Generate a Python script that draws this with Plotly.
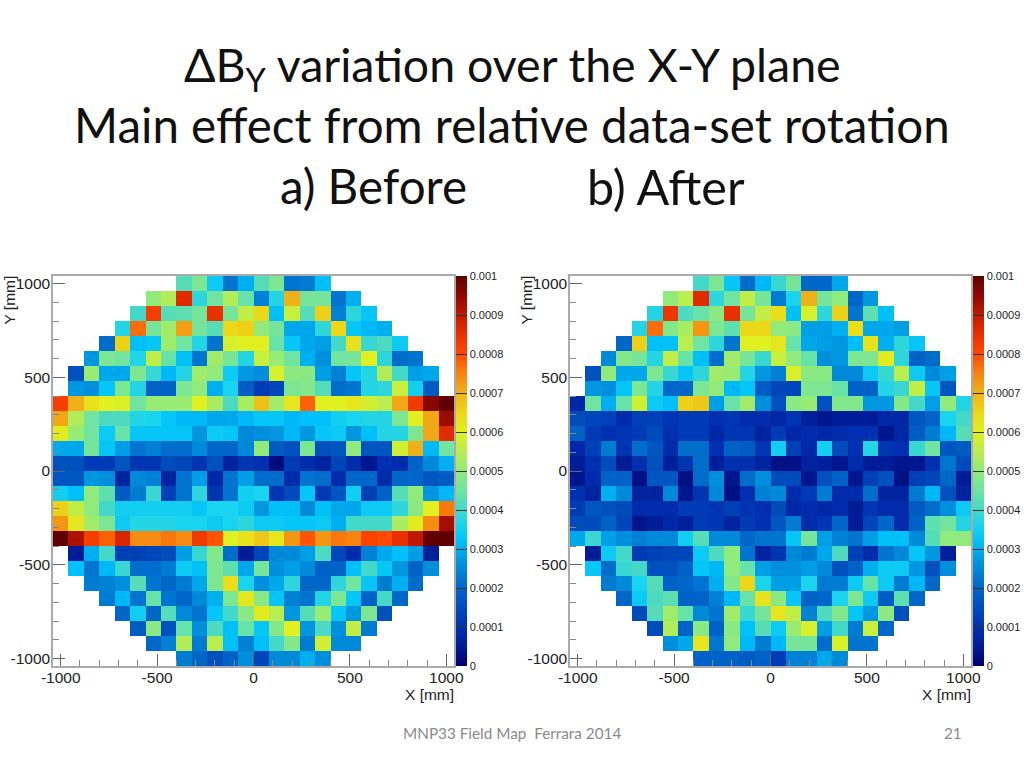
import plotly.graph_objects as go

W, H = 1024, 768

# bin centres in mm (80 mm bins)
x_centres = list(range(-1000, 1001, 80))
y_centres = list(range(1000, -1001, -80))

# delta-B_Y in units of 1e-4, rows from top to bottom; each row is centred on the grid
before_rows = [
 [4.2,4.7,3.4,2.2,3.0,4.2,4.7,2.2,2.3,3.2],
 [5.0,5.4,8.6,3.8,4.5,5.4,4.4,2.4,3.7,7.0,4.6,4.6,2.2,3.0],
 [4.0,8.2,4.2,4.3,4.6,8.5,4.6,5.6,6.5,3.2,5.7,4.2,6.6,2.4,3.8,3.3],
 [3.7,7.7,4.6,5.2,7.2,4.6,4.2,6.5,6.6,5.0,4.6,2.9,2.9,3.8,6.5,3.3,3.1,3.0],
 [2.1,6.6,3.2,3.3,5.2,4.5,3.7,2.2,5.9,6.0,6.0,4.4,3.3,2.9,2.8,4.0,6.3,3.9,4.1,3.4],
 [2.7,4.7,4.5,3.7,5.6,4.4,3.2,2.2,5.2,4.6,3.7,5.7,5.1,4.5,3.0,2.6,4.5,4.6,6.0,3.8,2.1,2.2],
 [1.6,5.1,2.9,2.9,4.7,3.9,3.1,3.7,5.2,5.0,3.4,2.7,2.6,5.9,4.9,4.9,2.8,2.4,3.3,3.7,5.4,4.0,2.8,2.9],
 [2.7,2.6,3.3,4.7,3.7,1.9,1.9,4.7,5.0,3.0,3.6,1.8,1.2,1.4,4.7,4.8,4.2,2.1,2.2,3.7,3.8,5.7,3.5,1.8],
 [8.2,7.0,6.3,6.0,5.9,4.5,5.1,5.1,5.1,6.0,5.3,4.1,5.3,6.8,5.2,6.2,7.8,6.0,6.0,6.2,5.8,5.5,7.1,8.3,9.6,10.0],
 [7.1,5.4,4.5,4.1,4.1,3.7,3.6,3.3,3.1,3.1,2.9,2.9,3.1,3.3,3.3,3.1,3.2,3.2,3.5,3.6,3.7,3.7,4.7,6.0,7.1,9.4],
 [6.1,5.1,4.5,3.4,4.4,3.3,3.3,3.3,3.3,2.7,3.4,3.3,2.5,2.6,2.7,3.1,2.7,3.3,3.4,2.7,3.2,3.7,3.7,4.7,7.1,8.6],
 [2.9,2.9,4.6,3.3,2.8,2.2,2.4,2.1,2.1,2.5,2.0,2.0,2.5,5.0,1.8,1.6,4.7,1.6,1.7,5.0,1.7,1.7,5.8,7.0,3.1,4.5],
 [1.6,1.6,1.2,1.2,1.7,1.1,1.1,1.5,1.4,1.1,1.6,0.7,1.1,1.0,0.2,1.2,0.9,0.7,1.4,0.9,0.4,1.0,0.9,1.9,2.5,3.0],
 [1.7,1.7,2.7,2.6,0.7,2.5,2.4,0.7,2.2,2.8,0.8,2.2,2.8,2.1,2.1,0.9,2.2,2.1,0.9,2.0,2.0,0.9,2.0,2.0,1.7,1.8],
 [3.5,3.2,5.0,4.3,1.8,2.3,3.9,1.3,2.2,3.8,1.1,2.2,3.5,3.6,1.1,1.5,3.3,1.2,1.7,3.5,1.3,1.9,4.2,5.0,2.7,3.1],
 [6.6,5.6,5.0,4.0,3.5,3.5,3.5,3.5,3.5,3.3,3.6,3.6,3.4,2.7,3.2,3.2,2.5,3.2,2.9,2.9,3.4,3.4,3.8,4.9,6.0,7.6],
 [7.3,6.2,5.2,4.7,3.4,3.7,3.7,3.7,3.6,3.6,3.4,3.6,3.8,3.4,3.4,3.3,3.3,3.4,3.0,4.0,4.0,4.0,5.3,6.1,7.4,9.3],
 [10.0,9.2,8.2,7.8,8.7,7.4,7.4,7.6,7.4,8.3,7.9,6.0,6.3,6.7,6.2,7.3,7.9,7.3,7.6,7.5,8.1,8.0,8.5,9.0,10.0,10.0],
 [0.5,3.0,4.0,1.3,1.3,1.4,1.5,2.8,3.9,4.8,2.1,0.5,1.4,2.5,2.5,2.8,4.1,1.4,0.9,2.4,2.9,3.2,2.8,0.6],
 [3.2,2.2,3.1,3.9,2.1,2.1,2.3,3.4,3.2,4.7,4.3,2.9,4.6,2.6,2.8,2.5,1.9,1.9,3.2,4.0,3.3,2.7,1.9,2.6],
 [2.3,2.4,2.6,4.2,2.2,2.0,2.3,2.9,4.7,6.4,3.6,2.6,2.9,3.8,2.0,2.0,3.8,4.5,3.3,2.3,3.0,2.1],
 [2.3,3.1,2.2,4.4,2.2,2.0,2.5,3.0,4.7,6.2,4.9,3.3,2.4,2.2,3.7,4.7,3.3,1.9,4.0,2.0],
 [2.0,3.5,2.0,4.2,2.5,2.2,3.3,4.0,4.9,6.1,5.5,2.7,4.2,5.1,3.3,2.7,4.7,1.6],
 [1.8,4.9,1.6,4.4,2.6,4.1,3.2,4.4,3.3,4.8,6.0,2.7,4.1,2.6,5.6,2.3],
 [2.0,2.4,5.4,2.3,5.5,3.2,2.4,3.2,4.0,4.8,2.3,5.8,2.5,2.5],
 [2.3,2.0,1.6,1.9,2.6,1.4,2.5,2.5,3.0,2.6],
]

after_rows = [
 [4.0,4.7,3.3,2.1,3.1,3.9,4.6,2.0,2.0,2.9],
 [5.0,5.5,8.6,3.8,4.5,5.6,4.6,2.3,3.6,7.0,4.6,5.0,2.0,2.7],
 [3.7,8.4,4.1,4.4,4.9,8.5,4.6,5.6,6.4,3.2,5.9,3.8,6.6,2.2,4.3,3.2],
 [3.7,7.7,4.8,5.3,7.3,4.7,4.3,6.5,6.5,5.0,4.9,2.8,2.8,3.0,6.4,2.9,2.9,2.8],
 [2.0,6.6,3.2,3.2,5.5,4.5,3.8,2.2,6.0,6.0,6.2,4.4,2.9,2.8,2.7,3.2,6.3,3.0,3.8,3.3],
 [2.5,4.8,4.6,3.7,5.6,4.4,3.2,2.1,5.2,4.6,3.9,5.7,5.0,4.4,2.6,2.7,4.7,4.7,6.1,3.8,1.9,2.1],
 [1.6,5.0,2.9,2.9,4.7,3.9,3.3,3.8,5.2,5.1,3.7,2.7,2.4,5.9,4.9,4.9,2.5,2.5,3.4,3.9,5.5,3.4,2.5,2.8],
 [2.7,2.6,3.3,4.7,3.7,2.0,2.0,4.7,5.0,3.1,3.3,1.8,1.4,1.4,4.7,4.7,4.4,1.9,1.9,3.7,3.9,5.6,3.3,1.7],
 [0.8,4.5,3.0,4.4,5.8,3.4,3.2,6.6,6.7,2.8,4.4,5.2,2.6,1.6,4.9,5.1,1.6,4.8,4.8,2.7,2.7,4.8,4.0,2.8,5.0,3.7],
 [1.5,1.4,1.3,0.9,1.3,1.3,1.1,1.2,1.2,1.0,1.1,0.9,0.9,0.8,1.1,0.6,0.4,0.5,0.5,0.5,0.8,0.8,1.7,1.9,3.6,4.0],
 [1.9,1.2,1.0,1.1,1.2,1.5,1.0,1.2,1.2,0.8,1.1,1.1,0.7,1.2,0.8,0.9,0.8,0.9,1.0,1.0,0.4,0.8,1.8,2.3,3.1,4.2],
 [0.8,1.3,2.3,1.1,2.1,1.7,0.9,2.1,2.1,1.0,1.9,1.8,1.1,3.5,1.3,0.8,3.5,1.5,1.0,3.7,1.1,1.0,3.9,4.5,1.7,1.8],
 [0.5,1.0,1.5,0.5,1.0,1.6,0.6,1.1,2.1,0.6,1.0,1.0,0.7,0.3,0.3,0.7,0.6,0.4,0.9,0.5,0.5,0.4,0.4,1.0,2.2,1.5],
 [0.4,0.9,1.9,1.9,0.3,1.7,1.7,0.3,2.1,2.6,0.4,2.1,2.6,1.5,1.5,0.4,1.6,1.9,0.4,1.3,1.6,0.3,1.3,1.4,2.0,0.5],
 [1.0,0.7,3.0,2.5,0.7,0.7,2.5,0.4,1.1,2.5,0.3,1.0,2.4,2.5,0.9,1.2,2.3,0.9,0.9,2.1,0.7,0.7,2.3,3.1,1.6,0.7],
 [1.2,1.7,1.6,1.5,0.9,0.9,0.9,1.2,1.2,1.1,1.3,1.1,1.0,1.5,0.8,0.9,0.8,0.9,0.5,1.1,0.9,0.9,1.8,2.1,2.6,3.4],
 [1.5,1.5,1.9,1.4,0.4,0.5,0.8,0.6,1.2,1.1,0.7,1.2,1.0,1.7,2.3,0.9,1.1,2.0,0.5,1.4,2.0,0.9,1.9,4.3,4.5,3.7],
 [2.9,3.9,2.8,2.6,2.4,2.5,2.5,3.5,4.2,2.5,2.5,2.0,2.2,2.2,3.3,4.6,2.8,2.4,2.2,2.8,3.2,3.2,2.5,4.2,5.0,5.0],
 [0.5,3.4,4.0,1.2,1.3,1.4,1.4,3.4,4.1,5.0,2.2,0.7,1.1,2.5,2.3,2.9,4.1,1.3,0.9,2.2,2.5,3.3,2.7,0.6],
 [3.3,2.1,3.9,4.0,1.6,1.6,1.9,3.3,3.1,5.0,4.4,2.8,2.6,2.6,2.8,2.5,1.6,1.9,3.0,3.4,3.4,2.7,1.6,2.6],
 [2.3,2.5,3.6,4.2,1.9,2.0,2.2,3.0,4.8,6.5,3.6,2.8,2.8,3.6,2.3,2.3,3.4,4.4,3.4,2.3,3.1,2.0],
 [2.0,3.4,4.1,4.3,1.9,1.9,2.4,3.1,4.4,6.3,4.9,3.3,1.9,2.0,3.6,4.7,3.4,1.8,4.3,2.0],
 [1.5,4.2,5.2,4.4,2.5,2.2,5.2,3.9,4.6,6.2,5.6,2.4,4.1,4.8,3.3,2.7,4.9,1.6],
 [1.5,5.4,1.9,4.9,1.9,4.9,3.2,4.2,3.4,5.1,5.9,2.8,4.0,2.3,5.7,2.0],
 [2.6,2.9,6.2,2.2,5.0,3.1,2.3,3.1,4.6,4.6,2.1,5.9,2.2,2.2],
 [1.9,1.9,1.9,1.8,1.9,1.2,2.4,2.4,2.9,2.5],
]

cbar_vals = [0, 0.0001, 0.0002, 0.0003, 0.0004, 0.0005, 0.0006, 0.0007, 0.0008, 0.0009, 0.001]
cbar_text = ["0", "0.0001", "0.0002", "0.0003", "0.0004", "0.0005", "0.0006", "0.0007", "0.0008", "0.0009", "0.001"]
axis_vals = [-1000, -500, 0, 500, 1000]
axis_text = ["-1000", "-500", "0", "500", "1000"]
title_lines = ["ΔB<sub>Y</sub> variation over the X-Y plane", "Main effect from relative data-set rotation"]

palette = [
 [0.00, "#00006e"], [0.05, "#001c96"], [0.10, "#0030b0"], [0.20, "#0066c8"], [0.27, "#0096e0"],
 [0.32, "#00c0fa"], [0.36, "#18d4ee"], [0.40, "#44d8c8"], [0.45, "#70e4a0"], [0.50, "#90ea7c"],
 [0.55, "#b8ee50"], [0.60, "#e0f020"], [0.65, "#ecd818"], [0.70, "#f0b018"], [0.75, "#f88410"],
 [0.80, "#ff4800"], [0.85, "#e83000"], [0.90, "#c01800"], [0.95, "#900800"], [1.00, "#600000"],
]


def grid(rows):
    out = []
    for r in rows:
        pad = (26 - len(r)) // 2
        out.append([None] * pad + [v * 1e-4 for v in r] + [None] * pad)
    return out


def px(x):
    return x / W


def py(y):
    return 1 - y / H


fig = go.Figure()
panels = [
    (before_rows, "x", "y", 456),
    (after_rows, "x2", "y2", 973),
]
for rows, xa, ya, cb in panels:
    fig.add_trace(go.Heatmap(
        x=x_centres, y=y_centres, z=grid(rows), xaxis=xa, yaxis=ya,
        zmin=0, zmax=0.001, colorscale=palette, hoverongaps=False,
        colorbar=dict(
            x=px(cb), xanchor="left", xpad=0, y=py(666), yanchor="bottom", ypad=0,
            len=390 / H, lenmode="fraction", thickness=11, thicknessmode="pixels",
            outlinewidth=0, tickmode="array", tickvals=cbar_vals, ticktext=cbar_text,
            ticks="inside", ticklen=11, tickcolor="#333333", tickwidth=1,
            tickfont=dict(family="Liberation Sans", size=11, color="#222222"),
        ),
    ))

axis_common = dict(
    range=[-1040, 1040], tickmode="array", tickvals=axis_vals, ticktext=axis_text, ticks="inside",
    ticklen=12, tickcolor="#666666", tickwidth=1, showgrid=False, zeroline=False,
    showline=True, linecolor="#aaaaaa", linewidth=1.5, mirror=True, layer="above traces",
    tickfont=dict(family="Liberation Sans", size=15.5, color="#222222"),
    minor=dict(ticks="inside", tickmode="linear", tick0=-1000, dtick=100, ticklen=6, tickcolor="#888888", tickwidth=1),
)
dom_y = [py(666), py(276)]
fig.update_layout(
    width=W, height=H, margin=dict(l=0, r=0, t=0, b=0, autoexpand=False), autosize=False,
    paper_bgcolor="white", plot_bgcolor="white", showlegend=False,
    xaxis=dict(domain=[px(53), px(454)], anchor="y", ticklabelstandoff=-3, **axis_common),
    yaxis=dict(domain=dom_y, anchor="x", ticklabelstandoff=-2, **axis_common),
    xaxis2=dict(domain=[px(570), px(971)], anchor="y2", ticklabelstandoff=-3, **axis_common),
    yaxis2=dict(domain=dom_y, anchor="x2", ticklabelstandoff=-2, **axis_common),
)


def label(text, x, y, size, family="Lato", color="#111111", xanchor="center", yanchor="middle", angle=0):
    fig.add_annotation(text=text, x=px(x), y=py(y), xref="paper", yref="paper", showarrow=False,
                       font=dict(family=family, size=size, color=color), xanchor=xanchor,
                       yanchor=yanchor, textangle=angle, borderpad=0, borderwidth=0)


label(title_lines[0], 512, 67, 46.5)
label(title_lines[1], 512, 125, 47.5)
label("a) Before", 373, 185.5, 47.5)
label("b) After", 666, 185.5, 48.5)
label("MNP33 Field Map  Ferrara 2014", 512, 733, 15.3, color="#8a8a8a")
label("21", 953, 733, 15.3, color="#8a8a8a")
for l, r in [(53, 454), (570, 971)]:
    label("X [mm]", r, 694, 15.5, family="Liberation Sans", color="#222222", xanchor="right")
    label("Y [mm]", l - 44, 276, 15.5, family="Liberation Sans", color="#222222", yanchor="top", angle=-90)

fig.write_html("out.html", config={"displayModeBar": False},
               post_script="document.body.style.margin='0';document.body.style.overflow='hidden';")
